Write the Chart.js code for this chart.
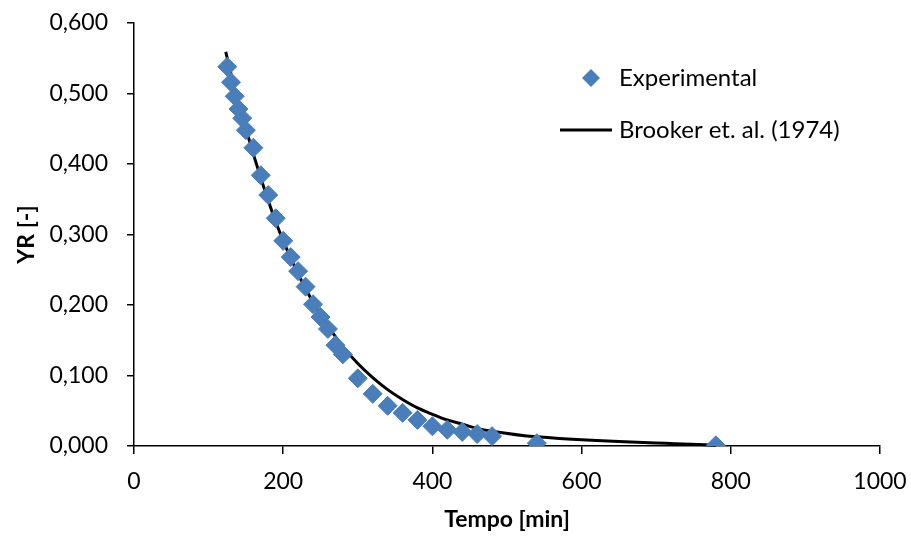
<!DOCTYPE html>
<html>
<head>
<meta charset="utf-8">
<script src="https://cdn.jsdelivr.net/npm/chart.js@4/dist/chart.umd.min.js"></script>
<style>
  html, body { margin: 0; padding: 0; background: #fff; }
  #wrap { width: 911px; height: 536px; position: relative; }
</style>
</head>
<body>
<div id="wrap"><canvas id="grafico"></canvas></div>
<script>
// experimental points
var tempo = [125, 130, 135, 140, 145, 150, 160, 170, 180, 190, 200, 210, 220, 230, 240, 250, 260, 270, 280, 300, 320, 340, 360, 380, 400, 420, 440, 460, 480, 540, 780];
var yrExp = [0.538, 0.516, 0.496, 0.478, 0.465, 0.448, 0.423, 0.384, 0.356, 0.323, 0.291, 0.268, 0.248, 0.226, 0.201, 0.183, 0.166, 0.143, 0.130, 0.096, 0.074, 0.057, 0.047, 0.037, 0.028, 0.023, 0.020, 0.017, 0.014, 0.004, 0.001];

// Brooker et. al. (1974) model curve
var tempoModelo = [123, 130, 140, 150, 160, 170, 180, 190, 200, 210, 220, 230, 240, 250, 260, 270, 280, 300, 320, 340, 360, 380, 400, 420, 440, 460, 480, 540, 780];
var yrModelo = [0.559, 0.528, 0.487, 0.450, 0.414, 0.380, 0.348, 0.318, 0.291, 0.267, 0.244, 0.223, 0.204, 0.186, 0.170, 0.155, 0.141, 0.117, 0.097, 0.080, 0.066, 0.054, 0.045, 0.037, 0.031, 0.025, 0.021, 0.013, 0.001];

var xTicks = [0, 200, 400, 600, 800, 1000];

function pares(xs, ys) {
  return xs.map(function (x, i) { return { x: x, y: ys[i] }; });
}

var fonte = 'Lato, "Liberation Sans", sans-serif';

// legend drawn inside the plot area, like the original
var legendaPlugin = {
  id: 'legenda',
  afterDraw: function (chart) {
    var ctx = chart.ctx;
    var ca = chart.chartArea;
    var lx = ca.right - 261;
    ctx.save();
    ctx.font = '24px ' + fonte;
    ctx.textBaseline = 'middle';
    ctx.textAlign = 'left';
    // diamond marker
    var mx = ca.right - 289, my = ca.top + 55, r = 9;
    ctx.beginPath();
    ctx.moveTo(mx - r, my); ctx.lineTo(mx, my - r); ctx.lineTo(mx + r, my); ctx.lineTo(mx, my + r);
    ctx.closePath();
    ctx.fillStyle = '#4a7ebb';
    ctx.fill();
    ctx.fillStyle = '#000';
    ctx.fillText('Experimental', lx, my);
    // line
    var ly = ca.top + 107;
    ctx.beginPath();
    ctx.moveTo(ca.right - 320, ly); ctx.lineTo(ca.right - 268, ly);
    ctx.lineWidth = 3;
    ctx.strokeStyle = '#000';
    ctx.stroke();
    ctx.fillText('Brooker et. al. (1974)', lx, ly);
    ctx.restore();
  }
};

var ctx = document.getElementById('grafico').getContext('2d');

var grafico = new Chart(ctx, {
  type: 'scatter',
  data: {
    datasets: [{
      label: 'Experimental',
      data: pares(tempo, yrExp),
      pointStyle: 'rectRot',
      pointRadius: 9.5,
      pointHoverRadius: 9.5,
      backgroundColor: '#4a7ebb',
      borderColor: '#4a7ebb',
      borderWidth: 1,
      order: 1
    }, {
      label: 'Brooker et. al. (1974)',
      type: 'line',
      data: pares(tempoModelo, yrModelo),
      showLine: true,
      pointRadius: 0,
      borderColor: '#000',
      borderWidth: 3,
      cubicInterpolationMode: 'monotone',
      fill: false,
      clip: false,
      order: 2
    }]
  },
  options: {
    responsive: true,
    maintainAspectRatio: false,
    animation: false,
    layout: { autoPadding: false, padding: { left: 0, right: 31, top: 23, bottom: 0 } },
    plugins: {
      legend: { display: false },
      tooltip: { enabled: false }
    },
    scales: {
      x: {
        type: 'linear',
        min: 0,
        max: 1000,
        afterBuildTicks: function (scale) {
          scale.ticks = xTicks.map(function (v) { return { value: v }; });
        },
        afterFit: function (scale) {
          scale.height = 90;
          scale.paddingRight = 0;
          scale.paddingLeft = 0;
        },
        border: { display: true, color: '#000', width: 1.5 },
        grid: { drawOnChartArea: false, drawTicks: true, tickLength: 8, color: '#000', lineWidth: 1.5 },
        ticks: {
          color: '#000',
          padding: 14,
          maxRotation: 0,
          font: { family: fonte, size: 23 },
          callback: function (v) { return String(v); }
        },
        title: {
          display: true,
          text: 'Tempo [min]',
          color: '#000',
          padding: { top: 0, bottom: 3 },
          font: { family: fonte, size: 23, weight: 'bold' }
        }
      },
      y: {
        min: 0,
        max: 0.6,
        afterFit: function (scale) {
          scale.width = 134;
          scale.paddingTop = 0;
          scale.paddingBottom = 0;
        },
        border: { display: true, color: '#000', width: 1.5 },
        grid: { drawOnChartArea: false, drawTicks: true, tickLength: 7, color: '#000', lineWidth: 1.5 },
        ticks: {
          stepSize: 0.1,
          color: '#000',
          padding: 19,
          font: { family: fonte, size: 23 },
          callback: function (v) { return v.toFixed(3).replace('.', ','); }
        },
        title: {
          display: true,
          text: 'YR [-]',
          color: '#000',
          padding: { top: 13, bottom: 0 },
          font: { family: fonte, size: 23, weight: 'bold' }
        }
      }
    }
  },
  plugins: [legendaPlugin]
});
</script>
</body>
</html>
